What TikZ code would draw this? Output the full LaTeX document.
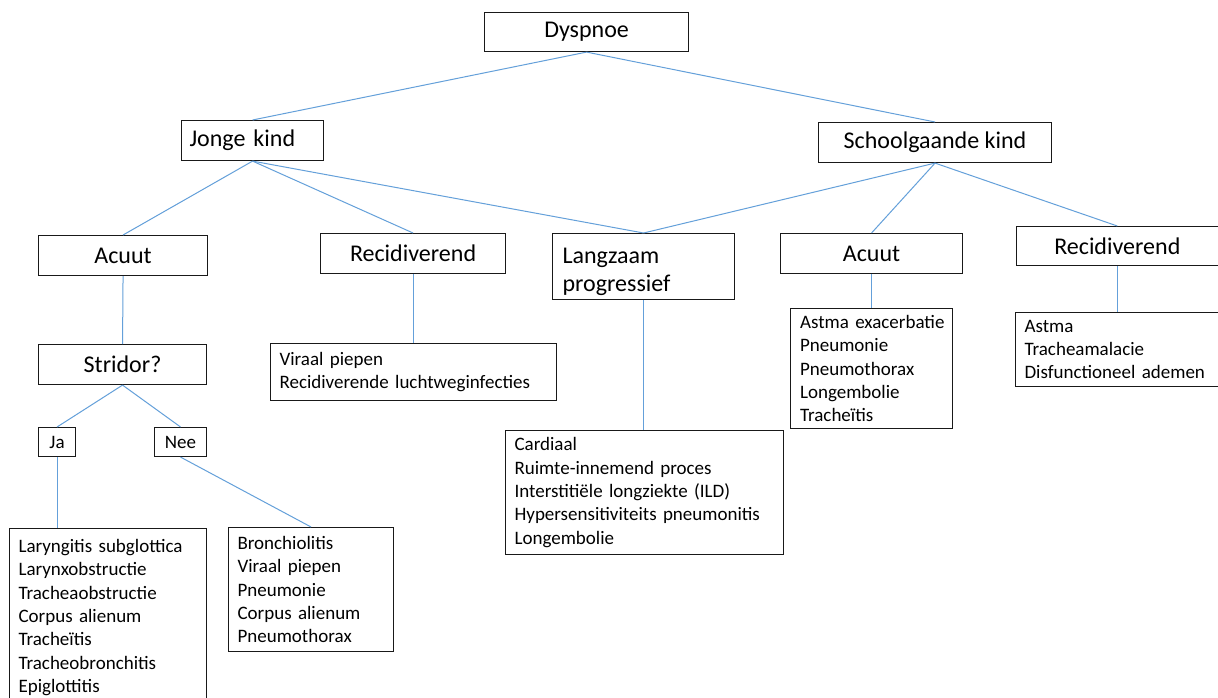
\documentclass[tikz,border=0pt]{standalone}
\usepackage{fontspec}
\setmainfont{Carlito}
\definecolor{boxline}{RGB}{25,25,25}
\definecolor{linkblue}{RGB}{100,160,218}
\tikzset{
  box/.style={draw=boxline, line width=1.1pt, anchor=north west, inner sep=0pt,
    text=black, font=\fontsize{24}{28}\selectfont, align=center},
  leftbox/.style={box, align=left},
  small/.style={box, font=\fontsize{19}{23}\selectfont},
  listbox/.style={draw=boxline, line width=1.1pt, anchor=north west, inner xsep=9pt,
    inner ysep=0pt, align=left, text=black, font=\fontsize{19}{23.3}\selectfont},
  link/.style={draw=linkblue, line width=1pt},
}
\begin{document}
\begin{tikzpicture}[x=1pt,y=-1pt]
\useasboundingbox (0,0) rectangle (1218,698);
\clip (0,0) rectangle (1218,698);
\fill[white] (0,0) rectangle (1218,698);

% top level
\node[box, minimum width=204, minimum height=39] (dys) at (484,12) {Dyspnoe};

% age groups
\node[leftbox, minimum height=40, text width=126, inner xsep=8] (jong) at (181,120) {Jonge kind};
\node[box, minimum width=233, minimum height=40] (school) at (818,122) {Schoolgaande kind};

% course
\node[box, minimum width=169, minimum height=40] (acL) at (38,235) {Acuut};
\node[box, minimum width=185, minimum height=40] (recL) at (320,233) {Recidiverend};
\node[leftbox, minimum height=66, text width=162, inner xsep=10] (lang) at (552,233)
  {\rule{0pt}{26pt}Langzaam\\progressief};
\node[box, minimum width=182, minimum height=40] (acR) at (780,233) {Acuut};
\node[box, minimum width=201.5, minimum height=39] (recR) at (1016,226) {Recidiverend};

% stridor branch
\node[box, minimum width=168, minimum height=40] (strid) at (38,344) {Stridor?};
\node[small, minimum width=37, minimum height=29] (ja) at (38,427) {Ja};
\node[small, minimum width=52, minimum height=29] (nee) at (154,427) {Nee};

% differential diagnoses
\node[listbox, text width=179, minimum height=178] (jaList) at (9,528)
  {Laryngitis subglottica\\Larynxobstructie\\Tracheaobstructie\\Corpus alienum\\Tracheïtis\\Tracheobronchitis\\Epiglottitis};
\node[listbox, text width=147, minimum height=124] (neeList) at (228,527)
  {Bronchiolitis\\Viraal piepen\\Pneumonie\\Corpus alienum\\Pneumothorax};
\node[listbox, text width=268, minimum height=57] (recLList) at (270,343)
  {Viraal piepen\\Recidiverende luchtweginfecties};
\node[listbox, text width=260, minimum height=124] (langList) at (505,430)
  {Cardiaal\\Ruimte-innemend proces\\Interstitiële longziekte (ILD)\\Hypersensitiviteits pneumonitis\\Longembolie};
\node[listbox, text width=143, inner xsep=9.5pt, minimum height=120] (acRList) at (790,308)
  {\mbox{Astma exacerbatie}\\Pneumonie\\Pneumothorax\\Longembolie\\Tracheïtis};
\node[listbox, text width=184.5, minimum height=74] (recRList) at (1015,312)
  {Astma\\Tracheamalacie\\\mbox{Disfunctioneel ademen}};

% connectors
\draw[link] (dys.south) -- (jong.north);
\draw[link] (dys.south) -- (school.north);
\draw[link] (jong.south) -- (acL.north);
\draw[link] (jong.south) -- (recL.north);
\draw[link] (jong.south) -- (lang.north);
\draw[link] (school.south) -- (lang.north);
\draw[link] (school.south) -- (acR.north);
\draw[link] (school.south) -- (recR.north);
\draw[link] (acL.south) -- (strid.north);
\draw[link] (strid.south) -- (ja.north);
\draw[link] (strid.south) -- (nee.north);
\draw[link] (ja.south) -- (ja.south |- jaList.north);
\draw[link] (nee.south) -- (neeList.north);
\draw[link] (recL.south) -- (recL.south |- recLList.north);
\draw[link] (lang.south) -- (lang.south |- langList.north);
\draw[link] (acR.south) -- (acR.south |- acRList.north);
\draw[link] (recR.south) -- (recR.south |- recRList.north);
\end{tikzpicture}
\end{document}
